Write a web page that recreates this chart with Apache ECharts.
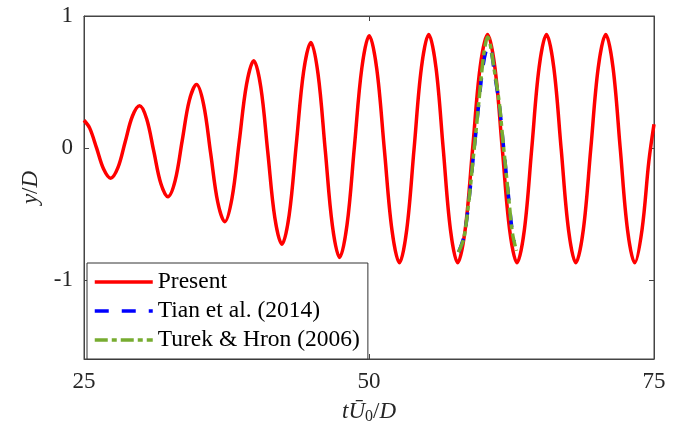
<!DOCTYPE html>
<html>
<head>
<meta charset="utf-8">
<script src="https://cdn.jsdelivr.net/npm/echarts@6/dist/echarts.min.js"></script>
<style>
  html, body { margin: 0; padding: 0; background: #fff; }
  #main { width: 685px; height: 422px; }
</style>
</head>
<body>
<div id="main"></div>
<script>
// present simulation (t*U0/D , y/D)
var presentT = [25.0, 25.5, 26.1, 26.72,
  27.34, 27.975, 28.61, 29.245, 29.88, 30.50, 31.12, 31.74,
  32.36, 32.99, 33.615, 34.24, 34.87, 35.49, 36.11, 36.73,
  37.35, 37.985, 38.62, 39.255, 39.89, 40.51, 41.125, 41.74,
  42.36, 42.995, 43.63, 44.265, 44.90, 45.53, 46.16, 46.79,
  47.42, 48.07, 48.72, 49.37, 50.02, 50.68, 51.345, 52.01,
  52.67, 53.31, 53.955, 54.60, 55.24, 55.875, 56.51, 57.145,
  57.78, 58.435, 59.09, 59.745, 60.40, 61.045, 61.69, 62.335,
  62.98, 63.63, 64.275, 64.92, 65.57, 66.21, 66.855, 67.50,
  68.14, 68.80, 69.455, 70.11, 70.77, 71.405, 72.04, 72.675,
  73.31, 73.95, 74.55, 75.0];
var presentY = [0.21, 0.15, 0.0, -0.16,
  -0.23, -0.15, 0.045, 0.24, 0.32, 0.22, -0.025, -0.27,
  -0.37, -0.25, 0.055, 0.36, 0.48, 0.33, -0.04, -0.41,
  -0.56, -0.38, 0.05, 0.48, 0.66, 0.46, -0.035, -0.53,
  -0.73, -0.51, 0.035, 0.58, 0.80, 0.56, -0.015, -0.59,
  -0.83, -0.585, 0.01, 0.605, 0.85, 0.60, -0.01, -0.62,
  -0.87, -0.62, -0.005, 0.61, 0.86, 0.61, -0.005, -0.62,
  -0.87, -0.62, -0.005, 0.61, 0.86, 0.61, -0.005, -0.62,
  -0.87, -0.62, -0.005, 0.61, 0.86, 0.61, -0.005, -0.62,
  -0.87, -0.62, -0.005, 0.61, 0.86, 0.61, -0.005, -0.62,
  -0.87, -0.62, -0.1, 0.18];

// Tian et al. (2014), one cycle
var tianT = [57.87, 58.36, 58.8, 59.09, 59.39, 59.68, 59.97, 60.25, 60.5,
  60.75, 61.0, 61.43, 61.72, 62.01, 62.3, 62.55, 62.74];
var tianY = [-0.79, -0.66, -0.37, -0.12, 0.13, 0.38, 0.60, 0.73, 0.77,
  0.72, 0.57, 0.33, 0.08, -0.17, -0.42, -0.62, -0.71];

// Turek & Hron (2006), one cycle
var turekT = [57.84, 58.1, 58.36, 58.8, 59.09, 59.39, 59.68, 59.97, 60.2, 60.4,
  60.6, 60.99, 61.43, 61.72, 62.01, 62.3, 62.59, 62.94];
var turekY = [-0.79, -0.74, -0.67, -0.37, -0.12, 0.13, 0.39, 0.64, 0.78, 0.84,
  0.80, 0.59, 0.34, 0.08, -0.17, -0.42, -0.65, -0.78];

var xTicks = [25, 50, 75];
var yTicks = [-1, 0, 1];
var names = ['Present', 'Tian et al. (2014)', 'Turek & Hron (2006)'];

function pairs(t, y) {
  return t.map(function (v, i) { return [v, y[i]]; });
}

var serif = '"Liberation Serif", "Times New Roman", serif';
var ink = '#262626';
var axisColor = '#444';

var chart = echarts.init(document.getElementById('main'), null, { renderer: 'canvas' });

var option = {
  animation: false,
  grid: {
    left: 84, right: 31, top: 16, bottom: 63,
    outerBoundsMode: 'none',
    containLabel: false,
    show: true, borderColor: axisColor, borderWidth: 1
  },
  legend: {
    orient: 'vertical',
    left: 87, top: 263,
    data: names,
    itemWidth: 58, itemHeight: 22, itemGap: 5,
    padding: [7, 8, 7, 6],
    backgroundColor: '#fff',
    borderColor: '#333', borderWidth: 1,
    itemStyle: { color: 'rgba(0,0,0,0)', borderWidth: 0, opacity: 0 },
    lineStyle: { width: 3.5 },
    textStyle: { fontFamily: serif, fontSize: 23.5, color: '#000', lineHeight: 22 }
  },
  xAxis: [{
    type: 'value', min: 25, max: 75, interval: 25,
    name: '{i|t}{i|\u016A}{s|0}{n|/}{i|D}',
    nameLocation: 'middle', nameGap: 40,
    nameTextStyle: {
      rich: {
        i: { fontFamily: serif, fontStyle: 'italic', fontSize: 23, color: ink, lineHeight: 26 },
        n: { fontFamily: serif, fontSize: 23, color: ink, lineHeight: 26 },
        s: { fontFamily: serif, fontSize: 16, color: ink, lineHeight: 15, verticalAlign: 'bottom' }
      }
    },
    axisLine: { show: true, onZero: false, lineStyle: { color: axisColor, width: 1 } },
    axisTick: { inside: true, length: 5, lineStyle: { color: axisColor }, customValues: xTicks },
    axisLabel: { fontFamily: serif, fontSize: 23, color: ink, margin: 11, customValues: xTicks },
    splitLine: { show: false }
  }, {
    type: 'value', min: 25, max: 75, interval: 25, position: 'top',
    axisLine: { show: true, onZero: false, lineStyle: { color: axisColor, width: 1 } },
    axisTick: { inside: true, length: 5, lineStyle: { color: axisColor } },
    axisLabel: { show: false },
    splitLine: { show: false }
  }],
  yAxis: [{
    type: 'value', min: -1.6, max: 1,
    name: '{i|y}{n|/}{i|D}',
    nameLocation: 'middle', nameGap: 41,
    nameTextStyle: {
      rich: {
        i: { fontFamily: serif, fontStyle: 'italic', fontSize: 23, color: ink },
        n: { fontFamily: serif, fontSize: 23, color: ink }
      }
    },
    axisLine: { show: true, onZero: false, lineStyle: { color: axisColor, width: 1 } },
    axisTick: { show: true, inside: true, length: 5, lineStyle: { color: axisColor }, customValues: yTicks },
    axisLabel: {
      fontFamily: serif, fontSize: 23, color: ink, margin: 11,
      customValues: yTicks,
      formatter: function (v) { return v < 0 ? '-' + Math.abs(v) : String(v); }
    },
    splitLine: { show: false }
  }, {
    type: 'value', min: -1.6, max: 1, position: 'right',
    axisLine: { show: true, onZero: false, lineStyle: { color: axisColor, width: 1 } },
    axisTick: { show: true, inside: true, length: 5, lineStyle: { color: axisColor }, customValues: yTicks },
    axisLabel: { show: false },
    splitLine: { show: false }
  }],
  series: [
    {
      name: names[0], type: 'line', smooth: 0.35, symbol: 'none',
      data: pairs(presentT, presentY),
      itemStyle: { color: '#ff0000' },
      lineStyle: { color: '#ff0000', width: 3.5 }
    },
    {
      name: names[1], type: 'line', smooth: 0.35, symbol: 'none',
      data: pairs(tianT, tianY),
      itemStyle: { color: '#0000ff' },
      lineStyle: { color: '#0000ff', width: 3.5, type: [14, 13] }
    },
    {
      name: names[2], type: 'line', smooth: 0.35, symbol: 'none',
      data: pairs(turekT, turekY),
      itemStyle: { color: '#77ac30' },
      lineStyle: { color: '#77ac30', width: 3.5, type: [13, 4, 5, 4] }
    }
  ]
};

chart.setOption(option);
</script>
</body>
</html>
